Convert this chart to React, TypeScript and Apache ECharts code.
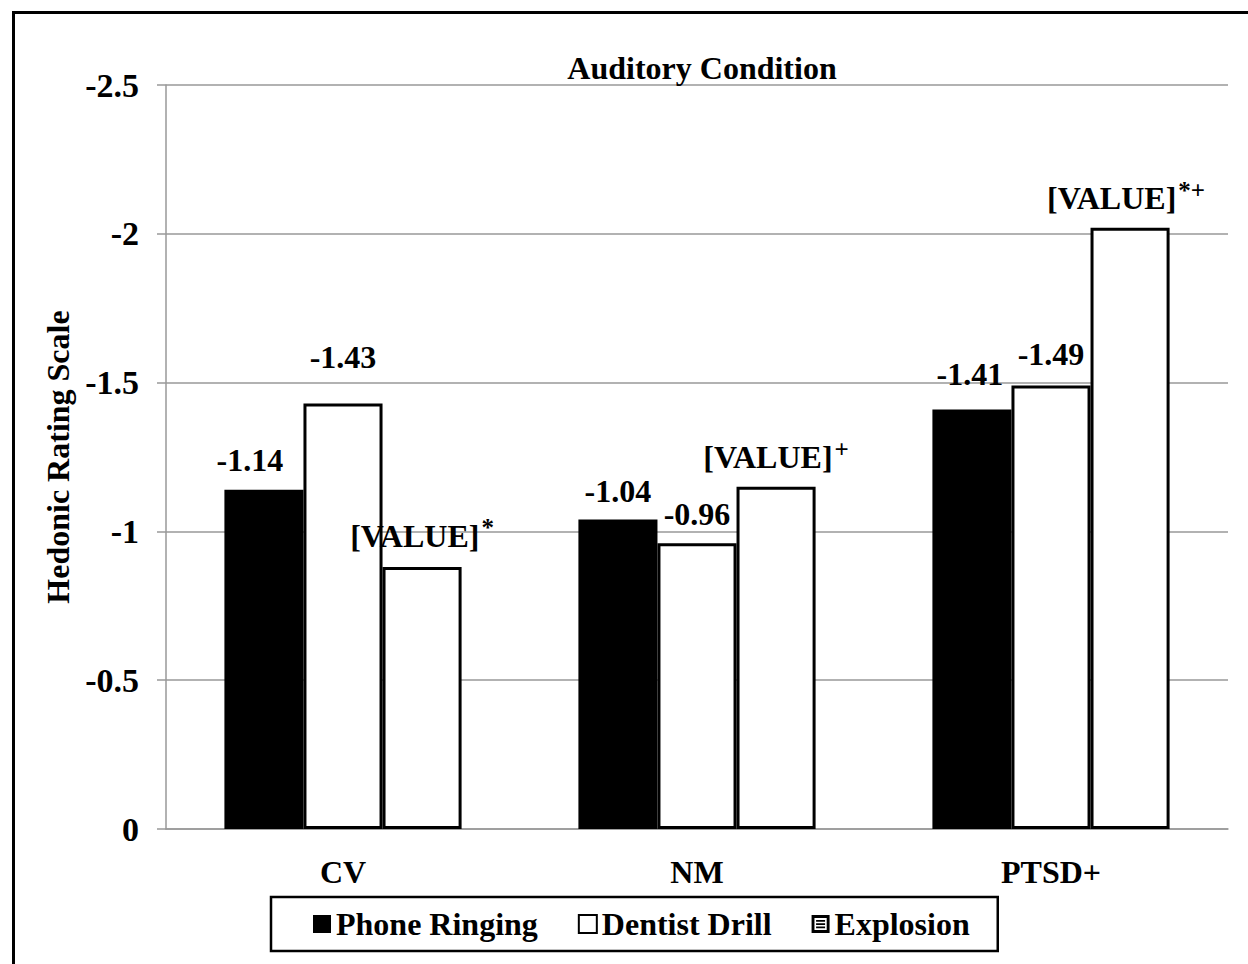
import React, { useEffect, useRef } from "react";
import * as echarts from "echarts";

const categories = ["CV", "NM", "PTSD+"];
const phoneRinging = [-1.14, -1.04, -1.41];
const dentistDrill = [-1.43, -0.96, -1.49];
const explosion = [-0.88, -1.15, -2.02];
const explosionMarks = ["*", "+", "*+"];
const seriesNames = ["Phone Ringing", "Dentist Drill", "Explosion"];

const FONT = "Liberation Serif";

// label placement tweaks (px), per series, per category: [dx, dy]
const phoneLabelShift = [[-14, 2], [0, 4], [-2, -3]];
const drillLabelShift = [[0, -14], [0, 3], [0, 0]];
const explosionLabelShift = [[0, 5], [0, 7], [-4, 7]];

export default function App() {
  const ref = useRef<HTMLDivElement>(null);
  useEffect(() => {
    if (!ref.current) return;
    const chart = echarts.init(ref.current, undefined, { renderer: "svg" });
    const numLabel = {
      show: true,
      position: "top" as const,
      distance: 16,
      fontFamily: FONT,
      fontWeight: "bold" as const,
      fontSize: 32,
      color: "#000",
      formatter: (p: any) => p.value.toFixed(2),
    };
    const withShift = (vals: number[], shifts: number[][]) =>
      vals.map((v, i) => ({ value: v, label: { offset: shifts[i] } }));
    chart.setOption({
      animation: false,
      backgroundColor: "#fff",
      textStyle: { fontFamily: FONT },
      title: {
        text: "Auditory Condition",
        left: 697,
        textAlign: "center",
        top: 47,
        textStyle: { fontFamily: FONT, fontWeight: "bold", fontSize: 32, color: "#000" },
      },
      grid: { left: 166, right: 20, top: 85, bottom: 135, containLabel: false },
      legend: {
        left: 271,
        top: 897,
        height: 55,
        padding: [11, 28, 11, 42],
        borderColor: "#000",
        borderWidth: 2.5,
        itemGap: 40,
        itemWidth: 18,
        itemHeight: 18,
        textStyle: { fontFamily: FONT, fontWeight: "bold", fontSize: 32, color: "#000", padding: [0, 0, 0, 0] },
        data: [
          { name: seriesNames[0], icon: "rect" },
          { name: seriesNames[1], icon: "rect" },
          {
            name: seriesNames[2],
            icon: "path://M0,0H10V10H0Z M1.6,1.6V8.4H8.4V1.6Z M2.5,2.8H7.5V3.8H2.5Z M2.5,4.6H7.5V5.6H2.5Z M2.5,6.4H7.5V7.4H2.5Z",
            itemStyle: { color: "#000", borderWidth: 0 },
          },
        ],
      },
      xAxis: {
        type: "category",
        data: categories,
        axisLine: { lineStyle: { color: "#999", width: 1.5 } },
        axisTick: { show: false },
        axisLabel: {
          margin: 27,
          fontFamily: FONT,
          fontWeight: "bold",
          fontSize: 32,
          color: "#000",
        },
      },
      yAxis: {
        type: "value",
        inverse: true,
        min: -2.5,
        max: 0,
        interval: 0.5,
        name: "Hedonic Rating Scale",
        nameLocation: "middle",
        nameGap: 88,
        nameRotate: 90,
        nameTextStyle: { fontFamily: FONT, fontWeight: "bold", fontSize: 32, color: "#000" },
        axisLine: { show: true, lineStyle: { color: "#999", width: 1.5 } },
        axisTick: { show: true, length: 9, lineStyle: { color: "#999", width: 1.5 } },
        splitLine: { lineStyle: { color: "#999", width: 1.5 } },
        axisLabel: {
          margin: 27,
          fontFamily: FONT,
          fontWeight: "bold",
          fontSize: 34,
          color: "#000",
          formatter: (v: number) => String(v),
        },
      },
      series: [
        {
          name: seriesNames[0],
          type: "bar",
          data: withShift(phoneRinging, phoneLabelShift),
          barGap: "0%",
          barCategoryGap: "33%",
          itemStyle: { color: "#000", borderColor: "#000", borderWidth: 0 },
          label: numLabel,
        },
        {
          name: seriesNames[1],
          type: "bar",
          data: withShift(dentistDrill, drillLabelShift),
          itemStyle: { color: "#fff", borderColor: "#000", borderWidth: 3 },
          label: numLabel,
        },
        {
          name: seriesNames[2],
          type: "bar",
          data: withShift(explosion, explosionLabelShift),
          itemStyle: { color: "#fff", borderColor: "#000", borderWidth: 3 },
          label: {
            show: true,
            position: "top",
            distance: 16,
            color: "#000",
            formatter: (p: any) => "{v|[VALUE]}{s|" + explosionMarks[p.dataIndex] + "}",
            rich: {
              v: { fontFamily: FONT, fontWeight: "bold", fontSize: 32, color: "#000" },
              s: {
                fontFamily: FONT,
                fontWeight: "bold",
                fontSize: 25,
                color: "#000",
                verticalAlign: "top",
                padding: [0, 0, 16, 2],
              },
            },
          },
        },
      ],
      graphic: [
        {
          type: "rect",
          silent: true,
          shape: { x: 13.5, y: 12.5, width: 1300, height: 1000 },
          style: { fill: "none", stroke: "#000", lineWidth: 3 },
        },
      ],
    });
    return () => chart.dispose();
  }, []);
  return (
    <div
      ref={ref}
      style={{ position: "absolute", left: 0, top: 0, width: 1248, height: 964 }}
    />
  );
}
